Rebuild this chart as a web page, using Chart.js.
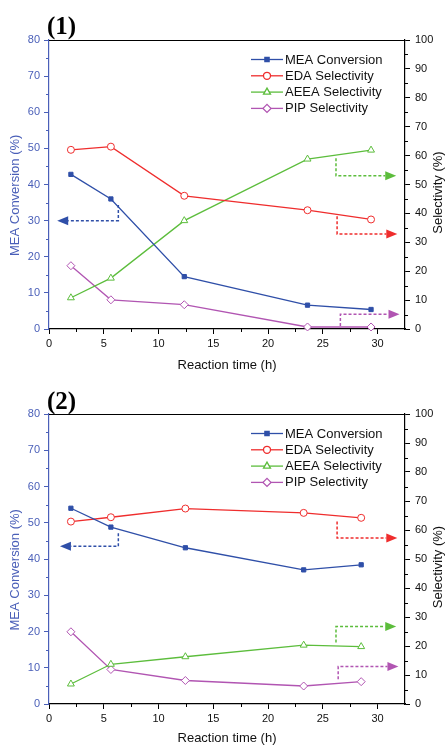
<!DOCTYPE html>
<html><head><meta charset="utf-8">
<script src="https://cdn.jsdelivr.net/npm/chart.js@4/dist/chart.umd.min.js"></script>
<style>
html,body{margin:0;padding:0;background:#fff;width:446px;height:746px;overflow:hidden}
canvas{position:absolute;left:0}
#c1{top:0}
#c2{top:373px}
</style></head>
<body>
<canvas id="c1" width="446" height="373"></canvas>
<canvas id="c2" width="446" height="373"></canvas>
<script>
// ---- Data: panel (1)
const time1 = [2.0, 5.65, 12.35, 23.6, 29.4];
const meaConv1 = [42.8, 36.0, 14.5, 6.6, 5.4];
const edaSel1 = [62.0, 63.1, 46.1, 41.1, 37.9];
const aeeaSel1 = [10.8, 17.6, 37.5, 58.8, 61.9];
const pipSel1 = [21.9, 10.1, 8.4, 0.7, 0.7];
// ---- Data: panel (2)
const time2 = [2.0, 5.65, 12.45, 23.25, 28.5];
const meaConv2 = [54.0, 48.8, 43.1, 37.0, 38.4];
const edaSel2 = [62.9, 64.4, 67.4, 65.9, 64.2];
const aeeaSel2 = [6.9, 13.7, 16.3, 20.3, 19.8];
const pipSel2 = [24.9, 11.9, 8.1, 6.2, 7.7];
// ---- Axis ticks
const xTicks = [0, 5, 10, 15, 20, 25, 30];
const leftTicks = [0, 10, 20, 30, 40, 50, 60, 70, 80];
const rightTicks = [0, 10, 20, 30, 40, 50, 60, 70, 80, 90, 100];
const seriesNames = ['MEA Conversion', 'EDA Selectivity', 'AEEA Selectivity', 'PIP Selectivity'];
const rightTitle = 'Selectivity (%)';
// ---- Axis-indicator arrows (data units): [x, y] path, last point = arrow tip
const arrows1 = {
  mea: [[6.33, 34.3], [6.33, 30.0], [0.75, 30.0]],
  eda: [[26.3, 39.0], [26.3, 32.9], [31.8, 32.9]],
  aeea: [[26.2, 59.1], [26.2, 53.0], [31.7, 53.0]],
  pip: [[26.6, 1.0], [26.6, 5.1], [32.0, 5.1]]
};
const arrows2 = {
  mea: [[6.33, 47.1], [6.33, 43.5], [1.0, 43.5]],
  eda: [[26.3, 62.9], [26.3, 57.2], [31.8, 57.2]],
  aeea: [[26.2, 21.2], [26.2, 26.7], [31.7, 26.7]],
  pip: [[26.4, 8.5], [26.4, 12.9], [31.9, 12.9]]
};

const BLUE = '#2f4fa8', AXBLUE = '#4a5fb8', RED = '#ef2d2d', GREEN = '#5cbd3c', PURPLE = '#b155b2';
const FONT = "'Liberation Sans', Arial, sans-serif";

function pts(xs, ys) { return xs.map((x, i) => ({x, y: ys[i]})); }

const extrasPlugin = {
  id: 'extras',
  afterDraw(chart, args, opts) {
    const ctx = chart.ctx, ca = chart.chartArea;
    const sx = chart.scales.x, sy = chart.scales.y, sy2 = chart.scales.y2;
    ctx.save();
    // top border
    ctx.strokeStyle = '#000'; ctx.lineWidth = 1.2;
    ctx.beginPath(); ctx.moveTo(ca.left, ca.top + 0.5); ctx.lineTo(ca.right, ca.top + 0.5); ctx.stroke();
    // minor ticks
    function minor(scale, ticks, color, dir) {
      ctx.strokeStyle = color; ctx.lineWidth = 1;
      for (let i = 0; i < ticks.length - 1; i++) {
        const v = (ticks[i] + ticks[i + 1]) / 2;
        const p = Math.round(scale.getPixelForValue(v)) + 0.5;
        ctx.beginPath();
        if (dir === 'down') { ctx.moveTo(p, ca.bottom); ctx.lineTo(p, ca.bottom + 3); }
        else if (dir === 'left') { ctx.moveTo(ca.left, p); ctx.lineTo(ca.left - 3, p); }
        else { ctx.moveTo(ca.right, p); ctx.lineTo(ca.right + 3, p); }
        ctx.stroke();
      }
    }
    minor(sx, xTicks, '#000', 'down');
    minor(sy, leftTicks, AXBLUE, 'left');
    minor(sy2, rightTicks, '#000', 'right');
    // arrows
    const arr = opts.arrows;
    const list = [[arr.mea, sy, BLUE], [arr.eda, sy2, RED], [arr.aeea, sy2, GREEN], [arr.pip, sy2, PURPLE]];
    list.forEach(([path, ys, col]) => {
      const P = path.map(p => [sx.getPixelForValue(p[0]), ys.getPixelForValue(p[1])]);
      const n = P.length;
      const tip = P[n - 1], prev = P[n - 2];
      const dx = tip[0] - prev[0], dy = tip[1] - prev[1];
      const len = Math.hypot(dx, dy), ux = dx / len, uy = dy / len;
      const L = 11, H = 4.5;
      const base = [tip[0] - ux * L, tip[1] - uy * L];
      ctx.strokeStyle = col; ctx.lineWidth = 1.5; ctx.setLineDash([3, 2]);
      ctx.beginPath(); ctx.moveTo(P[0][0], P[0][1]);
      for (let i = 1; i < n - 1; i++) ctx.lineTo(P[i][0], P[i][1]);
      ctx.lineTo(base[0], base[1]); ctx.stroke();
      ctx.setLineDash([]);
      ctx.fillStyle = col;
      ctx.beginPath(); ctx.moveTo(tip[0], tip[1]);
      ctx.lineTo(base[0] - uy * H, base[1] + ux * H);
      ctx.lineTo(base[0] + uy * H, base[1] - ux * H);
      ctx.closePath(); ctx.fill();
    });
    // legend
    const styles = [['rect', BLUE, true, 3], ['circle', RED, false, 3.5], ['triangle', GREEN, false, 4], ['rectRot', PURPLE, false, 4]];
    ctx.font = '13px ' + FONT; ctx.textBaseline = 'middle'; ctx.textAlign = 'left';
    seriesNames.forEach((name, i) => {
      const y = ca.top + 19.5 + i * 16.3;
      const [ps, col, filled, r] = styles[i];
      ctx.strokeStyle = col; ctx.lineWidth = 1.3;
      ctx.beginPath(); ctx.moveTo(251, y); ctx.lineTo(283, y); ctx.stroke();
      ctx.fillStyle = filled ? col : '#fff';
      Chart.helpers.drawPoint(ctx, {pointStyle: ps, radius: r, borderWidth: 1}, 267, y);
      ctx.fillStyle = '#111';
      ctx.fillText(name, 285, y + 0.5);
    });
    // right axis title (reads bottom-to-top, like the left one)
    ctx.save();
    ctx.translate(chart.width - 7.5, (ca.top + ca.bottom) / 2 + 8);
    ctx.rotate(-Math.PI / 2);
    ctx.font = '13px ' + FONT; ctx.fillStyle = '#111';
    ctx.textAlign = 'center'; ctx.textBaseline = 'middle';
    ctx.fillText(rightTitle, 0, 0);
    ctx.restore();
    // panel label
    ctx.font = "bold 25px 'Liberation Serif', 'Times New Roman', serif";
    ctx.fillStyle = '#000'; ctx.textBaseline = 'alphabetic'; ctx.textAlign = 'left';
    ctx.fillText(opts.label, 47, opts.labelY);
    ctx.restore();
  }
};

function makeChart(id, xs, mea, eda, aeea, pip, arrows, label, labelY, padTop, xH) {
  const ds = (lbl, data, col, ps, r, filled, axis) => ({
    label: lbl, data: pts(xs, data), yAxisID: axis,
    borderColor: col, borderWidth: 1.3, backgroundColor: filled ? col : '#fff',
    pointStyle: ps, pointRadius: r, pointBorderWidth: 1, pointBackgroundColor: filled ? col : '#fff',
    pointBorderColor: col, tension: 0, clip: false
  });
  return new Chart(document.getElementById(id), {
    type: 'line',
    data: {
      datasets: [
        ds(seriesNames[0], mea, BLUE, 'rect', 3, true, 'y'),
        ds(seriesNames[1], eda, RED, 'circle', 3.5, false, 'y2'),
        ds(seriesNames[2], aeea, GREEN, 'triangle', 4, false, 'y2'),
        ds(seriesNames[3], pip, PURPLE, 'rectRot', 4, false, 'y2')
      ]
    },
    options: {
      responsive: false, animation: false, devicePixelRatio: 1,
      layout: {padding: {top: padTop, left: 0, right: 0, bottom: 0}},
      plugins: {legend: {display: false}, tooltip: {enabled: false}, extras: {arrows, label, labelY}},
      scales: {
        x: {
          type: 'linear', min: 0, max: 32.5, position: 'bottom',
          afterFit(s) { s.height = xH; },
          afterBuildTicks(s) { s.ticks = xTicks.map(v => ({value: v})); },
          ticks: {color: '#111', font: {family: FONT, size: 11}, padding: 3, maxRotation: 0, autoSkip: false},
          grid: {display: true, drawOnChartArea: false, drawTicks: true, tickLength: 5, tickColor: '#000', tickWidth: 1},
          border: {display: true, color: '#000', width: 1.2},
          title: {display: true, text: 'Reaction time (h)', color: '#111', font: {family: FONT, size: 13}, padding: {top: 0, bottom: 0}}
        },
        y: {
          type: 'linear', min: 0, max: 80, position: 'left',
          afterFit(s) { s.width = 49; },
          afterBuildTicks(s) { s.ticks = leftTicks.map(v => ({value: v})); },
          ticks: {color: AXBLUE, font: {family: FONT, size: 11}, padding: 4, autoSkip: false},
          grid: {display: true, drawOnChartArea: false, drawTicks: true, tickLength: 5, tickColor: AXBLUE, tickWidth: 1},
          border: {display: true, color: AXBLUE, width: 1.2},
          title: {display: true, text: 'MEA Conversion (%)      ', color: AXBLUE, font: {family: FONT, size: 13}, padding: {top: 8, bottom: 0}}
        },
        y2: {
          type: 'linear', min: 0, max: 100, position: 'right',
          afterFit(s) { s.width = 41; },
          afterBuildTicks(s) { s.ticks = rightTicks.map(v => ({value: v})); },
          ticks: {color: '#111', font: {family: FONT, size: 11}, padding: 5, autoSkip: false},
          grid: {display: true, drawOnChartArea: false, drawTicks: true, tickLength: 5, tickColor: '#000', tickWidth: 1},
          border: {display: true, color: '#000', width: 1.2},
          title: {display: false}
        }
      }
    },
    plugins: [extrasPlugin]
  });
}

makeChart('c1', time1, meaConv1, edaSel1, aeeaSel1, pipSel1, arrows1, '(1)', 34, 40, 44);
makeChart('c2', time2, meaConv2, edaSel2, aeeaSel2, pipSel2, arrows2, '(2)', 36, 41, 42);
</script>
</body></html>
